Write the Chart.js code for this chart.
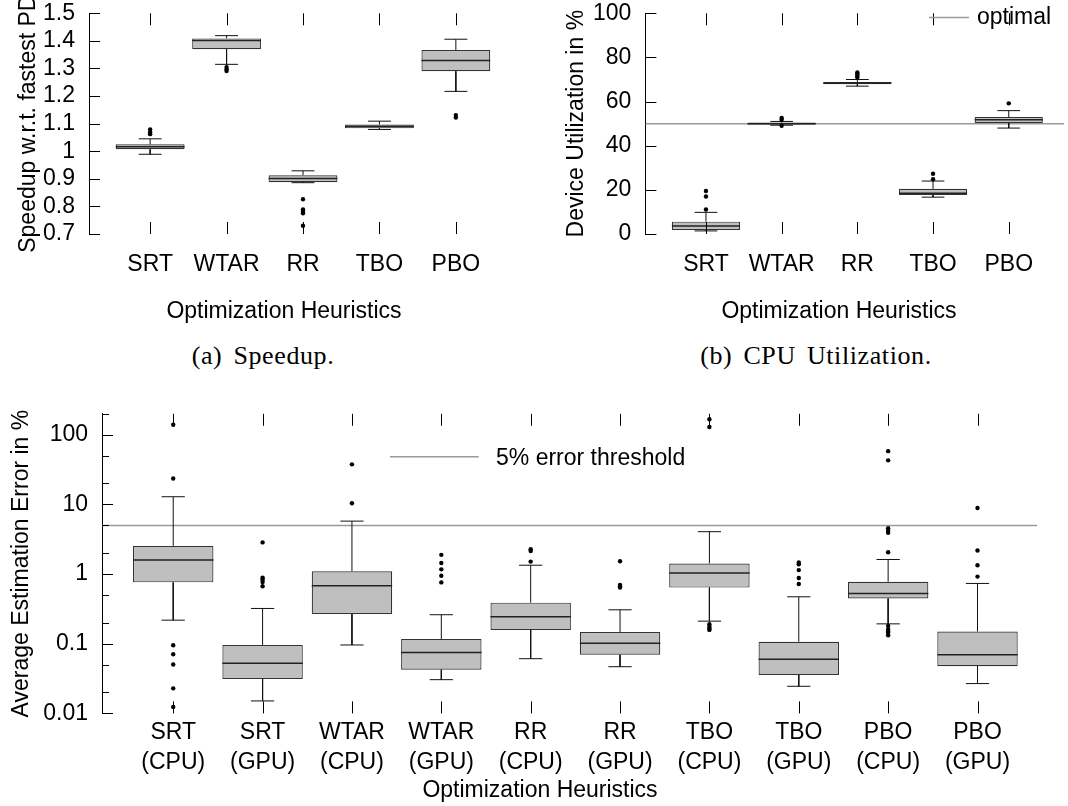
<!DOCTYPE html>
<html><head><meta charset="utf-8">
<script src="https://cdn.jsdelivr.net/npm/chart.js@4.4.1/dist/chart.umd.min.js"></script>
<style>
html,body{margin:0;padding:0;background:#fff;width:1068px;height:806px;overflow:hidden;position:relative}
canvas{position:absolute}
.cap{position:absolute;font-family:'Liberation Serif','Times New Roman',serif;font-size:26px;line-height:30px;color:#000;text-align:center;white-space:nowrap;word-spacing:4px;letter-spacing:0.6px}
</style></head><body>
<canvas id="ca" width="540" height="330" style="left:0;top:0"></canvas>
<canvas id="cb" width="528" height="330" style="left:540px;top:0"></canvas>
<canvas id="cc" width="1068" height="406" style="left:0;top:400px"></canvas>
<div class="cap" style="left:113px;top:341px;width:300px">(a) Speedup.</div>
<div class="cap" style="left:666px;top:341px;width:300px">(b) CPU Utilization.</div>
<script>
// ---------- (a) Speedup ----------
const catsA = ['SRT','WTAR','RR','TBO','PBO'];
const speedQ1  = [1.007, 1.370, 0.888, 1.083, 1.290];
const speedMed = [1.016, 1.401, 0.901, 1.090, 1.329];
const speedQ3  = [1.025, 1.409, 0.913, 1.097, 1.367];
const speedLo  = [0.989, 1.315, 0.886, 1.079, 1.217];
const speedHi  = [1.045, 1.419, 0.929, 1.109, 1.406];
const speedOut = [[1.062,1.069,1.079],[1.291,1.297,1.305],[0.730,0.775,0.782,0.789,0.826],[],[1.122,1.131]];
const speedTicks = [0.7,0.8,0.9,1,1.1,1.2,1.3,1.4,1.5];
const speedTickLabels = ['0.7','0.8','0.9','1','1.1','1.2','1.3','1.4','1.5'];

// ---------- (b) CPU Utilization ----------
const catsB = ['SRT','WTAR','RR','TBO','PBO'];
const utilQ1  = [1.8, 49.6, 67.9, 17.7, 50.3];
const utilMed = [3.6, 50.0, 68.4, 18.5, 51.8];
const utilQ3  = [5.6, 50.5, 68.9, 20.5, 53.0];
const utilLo  = [1.4, 49.3, 67.0, 16.7, 48.0];
const utilHi  = [9.8, 51.0, 70.0, 24.0, 55.9];
const utilOut = [[11.1,17.0,19.5],[49.0,51.8,52.6],[71.0,71.8,72.5,73.2],[24.8,27.3],[59.2]];
const utilTicks = [0,20,40,60,80,100];
const utilTickLabels = ['0','20','40','60','80','100'];
const utilOptimal = 50;

// ---------- (c) Estimation error ----------
const catsC = [['SRT','(CPU)'],['SRT','(GPU)'],['WTAR','(CPU)'],['WTAR','(GPU)'],['RR','(CPU)'],['RR','(GPU)'],['TBO','(CPU)'],['TBO','(GPU)'],['PBO','(CPU)'],['PBO','(GPU)']];
const errQ1  = [0.761, 0.0312, 0.267, 0.0424, 0.158, 0.0695, 0.64, 0.0356, 0.446, 0.0477];
const errMed = [1.59, 0.0526, 0.68, 0.0748, 0.244, 0.102, 1.04, 0.060, 0.528, 0.0695];
const errQ3  = [2.54, 0.096, 1.095, 0.117, 0.389, 0.147, 1.42, 0.107, 0.777, 0.150];
const errLo  = [0.218, 0.0151, 0.096, 0.0305, 0.061, 0.0468, 0.211, 0.0245, 0.193, 0.0268];
const errHi  = [12.9, 0.321, 5.76, 0.261, 1.34, 0.307, 4.06, 0.472, 1.62, 0.734];
const errOut = [
  [139, 23.6, 0.095, 0.0707, 0.0503, 0.0229, 0.0124],
  [2.85, 0.89, 0.84, 0.77, 0.67],
  [37.6, 10.4],
  [1.89, 1.44, 1.17, 0.945, 0.76],
  [2.27, 2.14, 1.51],
  [1.53, 0.70, 0.67, 0.64],
  [167, 129, 0.19, 0.176, 0.165, 0.158],
  [1.47, 1.38, 1.14, 0.88, 0.72],
  [58.2, 42.9, 4.55, 4.2, 3.93, 2.06, 0.18, 0.16, 0.15, 0.144, 0.132],
  [8.87, 2.18, 1.34, 0.92]
];
const errTicks = [0.01, 0.1, 1, 10, 100];
const errTickLabels = ['0.01','0.1','1','10','100'];
const errMinorTicks = [0.02,0.05,0.2,0.5,2,5,20,50,200];
const errThreshold = 5;

// ---------------------------------------------------------------
const FONT = "'Liberation Sans', Arial, Helvetica, sans-serif";
const FS = 23;
Chart.defaults.font.family = FONT;
Chart.defaults.font.size = FS;
Chart.defaults.color = '#000';

function decorPlugin(o){
  return {
    id: 'decor',
    afterDatasetsDraw(chart){
      const ctx = chart.ctx, a = chart.chartArea, xs = chart.scales.x, ys = chart.scales.y;
      ctx.save();
      ctx.strokeStyle = '#000'; ctx.lineWidth = 1;
      ctx.beginPath();
      o.yMajor.forEach(v => { const y = Math.round(ys.getPixelForValue(v)) + 0.5; ctx.moveTo(a.left, y); ctx.lineTo(a.left + 11, y); });
      (o.yMinor || []).forEach(v => { if (v > ys.max) return; const y = Math.round(ys.getPixelForValue(v)) + 0.5; ctx.moveTo(a.left, y); ctx.lineTo(a.left + 7, y); });
      o.xPos.forEach(v => { const x = Math.round(xs.getPixelForValue(v)) + 0.5;
        ctx.moveTo(x, a.bottom); ctx.lineTo(x, a.bottom - 12);
        ctx.moveTo(x, a.top); ctx.lineTo(x, a.top + 12); });
      ctx.stroke();
      ctx.font = FS + 'px ' + FONT;
      ctx.fillStyle = '#000';
      ctx.textBaseline = 'middle';
      if (o.legend) {
        const L = o.legend;
        ctx.strokeStyle = '#9a9a9a'; ctx.lineWidth = 1.5;
        ctx.beginPath(); ctx.moveTo(L.x1, L.y); ctx.lineTo(L.x2, L.y); ctx.stroke();
        ctx.textAlign = 'left';
        ctx.fillText(L.text, L.tx, L.ty);
      }
      if (o.xTitle) {
        ctx.textAlign = 'center';
        ctx.fillText(o.xTitle.text, o.xTitle.x, o.xTitle.y);
      }
      ctx.restore();
    }
  };
}

function makeChart(id, o){
  const pos = o.cats.map((c, i) => i + 1);
  const whisk = [], meds = [], outs = [];
  pos.forEach((x, i) => {
    whisk.push({x, y:o.q3[i]}, {x, y:o.hi[i]}, {x, y:null});
    whisk.push({x:x-o.capHalf, y:o.hi[i]}, {x:x+o.capHalf, y:o.hi[i]}, {x, y:null});
    whisk.push({x, y:o.q1[i]}, {x, y:o.lo[i]}, {x, y:null});
    whisk.push({x:x-o.capHalf, y:o.lo[i]}, {x:x+o.capHalf, y:o.lo[i]}, {x, y:null});
    meds.push({x:x-o.boxHalf, y:o.med[i]}, {x:x+o.boxHalf, y:o.med[i]}, {x, y:null});
    o.out[i].forEach(v => outs.push({x, y:v}));
  });
  const datasets = [];
  if (o.ref !== undefined) {
    datasets.push({type:'line', data:[{x:o.xMin, y:o.ref}, {x:o.xMax, y:o.ref}], borderColor:'#9a9a9a', borderWidth:1.5, pointRadius:0, order:6});
  }
  datasets.push({type:'bar', data:pos.map((x, i) => ({x, y:[o.q1[i], o.q3[i]]})), backgroundColor:'#bfbfbf', borderColor:'#333', borderWidth:1.2, borderSkipped:false, barPercentage:o.boxHalf*2, categoryPercentage:1, order:5});
  datasets.push({type:'line', data:whisk, borderColor:'#111', borderWidth:1, pointRadius:0, spanGaps:false, order:4});
  datasets.push({type:'line', data:meds, borderColor:'#222', borderWidth:1.5, pointRadius:0, spanGaps:false, order:3});
  datasets.push({type:'scatter', data:outs, pointRadius:2.2, pointBackgroundColor:'#000', pointBorderWidth:0, backgroundColor:'#000', order:2});

  return new Chart(document.getElementById(id), {
    type: 'bar',
    data: { datasets },
    options: {
      responsive: false, animation: false, events: [],
      layout: { padding: { left:0, top:o.padTop, right:o.padRight, bottom:0 } },
      plugins: { legend:{display:false}, tooltip:{enabled:false} },
      scales: {
        x: {
          type:'linear', offset:false, min:o.xMin, max:o.xMax,
          grid:{display:false, drawTicks:false}, border:{display:false},
          afterBuildTicks: s => { s.ticks = pos.map(v => ({value:v})); },
          afterFit: s => { s.height = o.xHeight; s.paddingLeft = 0; s.paddingRight = 0; },
          ticks:{ autoSkip:false, maxRotation:0, padding:o.xPad, font:{size:FS, lineHeight:o.xLineHeight}, color:'#000',
            callback:(v, i) => o.cats[i] }
        },
        y: {
          type:o.yType, min:o.yMin, max:o.yMax,
          grid:{display:false, drawTicks:false}, border:{display:true, color:'#000', width:1},
          afterBuildTicks: s => { s.ticks = o.yTicks.map(v => ({value:v})); },
          afterFit: s => { s.width = o.yWidth; s.paddingTop = 0; s.paddingBottom = 0; },
          ticks:{ autoSkip:false, padding:14, font:{size:FS}, color:'#000',
            callback:(v, i) => o.yLabels[i] },
          title:{ display:true, text:o.yTitle, color:'#000', font:{size:FS, lineHeight:1.2}, padding:{top:o.yTitlePad, bottom:0} }
        }
      }
    },
    plugins: [decorPlugin({ yMajor:o.yTicks, yMinor:o.yMinor, xPos:pos, legend:o.legend, xTitle:o.xTitle })]
  });
}

makeChart('ca', {
  cats:catsA, q1:speedQ1, med:speedMed, q3:speedQ3, lo:speedLo, hi:speedHi, out:speedOut,
  capHalf:0.15, boxHalf:0.45,
  yType:'linear', yMin:0.7, yMax:1.5, yTicks:speedTicks, yLabels:speedTickLabels,
  yTitle:'Speedup w.r.t. fastest PD', yTitlePad:14.5, yWidth:89,
  xMin:0.2, xMax:5.8, xHeight:96, xPad:17, xLineHeight:1.2,
  padTop:13.3, padRight:23,
  xTitle:{text:'Optimization Heuristics', x:284, y:312}
});

makeChart('cb', {
  cats:catsB, q1:utilQ1, med:utilMed, q3:utilQ3, lo:utilLo, hi:utilHi, out:utilOut,
  capHalf:0.15, boxHalf:0.45,
  yType:'linear', yMin:0, yMax:100, yTicks:utilTicks, yLabels:utilTickLabels,
  yTitle:'Device Utilization in %', yTitlePad:23.2, yWidth:105.4,
  xMin:0.2, xMax:5.73, xHeight:96, xPad:17, xLineHeight:1.2,
  padTop:13.3, padRight:0, ref:utilOptimal,
  legend:{x1:389, x2:429, y:17.5, text:'optimal', tx:437, ty:17.5},
  xTitle:{text:'Optimization Heuristics', x:299, y:312}
});

makeChart('cc', {
  cats:catsC, q1:errQ1, med:errMed, q3:errQ3, lo:errLo, hi:errHi, out:errOut,
  capHalf:0.13, boxHalf:0.45,
  yType:'logarithmic', yMin:0.01, yMax:200, yTicks:errTicks, yLabels:errTickLabels, yMinor:errMinorTicks,
  yTitle:'Average Estimation Error in %', yTitlePad:8.2, yWidth:102,
  xMin:0.203, xMax:10.668, xHeight:92.6, xPad:5, xLineHeight:1.28,
  padTop:13.8, padRight:30.8, ref:errThreshold,
  legend:{x1:390, x2:478.7, y:56.7, text:'5% error threshold', tx:496, ty:58.5},
  xTitle:{text:'Optimization Heuristics', x:540, y:391}
});
</script>
</body></html>
